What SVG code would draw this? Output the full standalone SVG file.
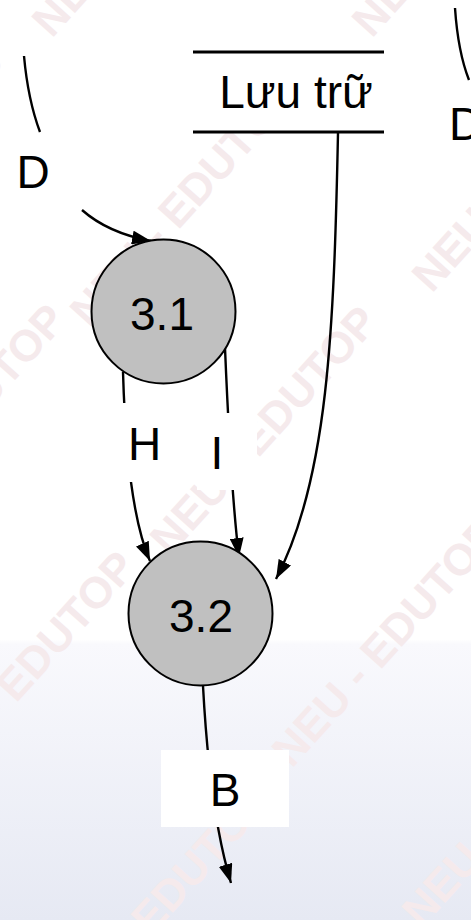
<svg xmlns="http://www.w3.org/2000/svg" width="471" height="920" viewBox="0 0 471 920">
  <defs>
    <linearGradient id="bg" x1="0" y1="0" x2="0" y2="1">
      <stop offset="0" stop-color="#ffffff"/>
      <stop offset="0.695" stop-color="#ffffff"/>
      <stop offset="0.70" stop-color="#f9f9fd"/>
      <stop offset="1" stop-color="#e6e9f3"/>
    </linearGradient>
    <marker id="arrow" markerUnits="userSpaceOnUse" markerWidth="20" markerHeight="14" refX="19" refY="7" orient="auto">
      <path d="M0,0 L19,7 L0,14 z" fill="#000"/>
    </marker>
    <style>
      .flow { fill: none; stroke: #000; stroke-width: 2.4; }
      .proc { fill: #c0c0c0; stroke: #000; stroke-width: 2; }
      .store { stroke: #000; stroke-width: 3; }
      .lbl { font-family: "Liberation Sans", Arial, sans-serif; font-size: 46px; fill: #000; text-anchor: middle; }
      .lblbox { fill: #ffffff; }
      .wm { font-family: "Liberation Sans", Arial, sans-serif; font-size: 44px; font-weight: bold; fill: #f5eaec; text-anchor: middle; }
    </style>
  </defs>

  <rect x="0" y="0" width="471" height="920" fill="url(#bg)"/>

  <!-- background watermark, repeated diagonally -->
  <g id="watermark">
    <text class="wm" transform="translate(157,-78) rotate(-48)">NEU - EDUTOP</text>
    <text class="wm" transform="translate(477,-78) rotate(-48)">NEU - EDUTOP</text>
    <text class="wm" transform="translate(-92,188) rotate(-48)">NEU - EDUTOP</text>
    <text class="wm" transform="translate(195,212) rotate(-48)">NEU - EDUTOP</text>
    <text class="wm" transform="translate(537,177) rotate(-48)">NEU - EDUTOP</text>
    <text class="wm" transform="translate(-37,438) rotate(-48)">NEU - EDUTOP</text>
    <text class="wm" transform="translate(275,440) rotate(-48)">NEU - EDUTOP</text>
    <text class="wm" transform="translate(33,685) rotate(-48)">NEU - EDUTOP</text>
    <text class="wm" transform="translate(397,652) rotate(-48)">NEU - EDUTOP</text>
    <text class="wm" transform="translate(168,918) rotate(-48)">NEU - EDUTOP</text>
    <text class="wm" transform="translate(527,812) rotate(-48)">NEU - EDUTOP</text>
  </g>

  <!-- data store -->
  <g id="store">
    <rect x="193" y="52" width="191" height="80" fill="#ffffff"/>
    <line class="store" x1="193" y1="52" x2="384" y2="52"/>
    <line class="store" x1="193" y1="132" x2="384" y2="132"/>
    <text class="lbl" x="296" y="108">Lưu trữ</text>
  </g>

  <!-- data flows -->
  <g id="connectors">
    <path class="flow" d="M24,56 Q28,100 40,132"/>
    <path class="flow" d="M82,210 Q108,233 151,241" marker-end="url(#arrow)"/>
    <path class="flow" d="M455,8 Q458,52 469,80"/>
    <path class="flow" d="M338,133 C334,330 328,480 276,579" marker-end="url(#arrow)"/>
    <path class="flow" d="M123,372 C125,440 132,520 150,561" marker-end="url(#arrow)"/>
    <path class="flow" d="M225,348 C228,420 232,500 239,557" marker-end="url(#arrow)"/>
    <path class="flow" d="M203,686 C207,760 215,830 231,883" marker-end="url(#arrow)"/>
  </g>

  <!-- flow labels -->
  <g id="label-D-left">
    <rect class="lblbox" x="8" y="140" width="52" height="60"/>
    <text class="lbl" x="33" y="188">D</text>
  </g>
  <g id="label-D-right">
    <text class="lbl" x="449" y="140" style="text-anchor:start">D</text>
  </g>
  <g id="label-H">
    <rect class="lblbox" x="108" y="403" width="66" height="79"/>
    <text class="lbl" x="144.5" y="460">H</text>
  </g>
  <g id="label-I">
    <rect class="lblbox" x="197" y="413" width="60" height="77"/>
    <text class="lbl" x="217" y="469">I</text>
  </g>
  <g id="label-B">
    <rect class="lblbox" x="161" y="750" width="128" height="77"/>
    <text class="lbl" x="225" y="806">B</text>
  </g>

  <!-- processes -->
  <g id="p3-1">
    <circle class="proc" cx="163.5" cy="311.5" r="72"/>
    <text class="lbl" x="162" y="330">3.1</text>
  </g>
  <g id="p3-2">
    <circle class="proc" cx="200.5" cy="613.5" r="72"/>
    <text class="lbl" x="201" y="632">3.2</text>
  </g>
</svg>
